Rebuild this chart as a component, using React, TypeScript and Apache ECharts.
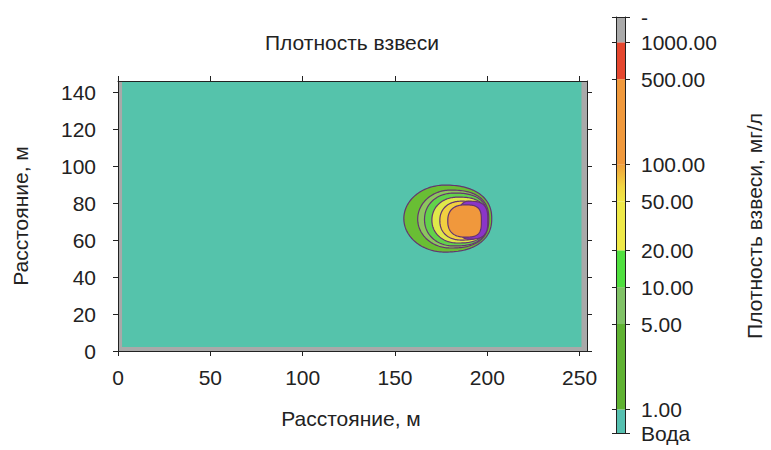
import React, { useEffect, useRef } from 'react';
import * as echarts from 'echarts';

// ---- main plot axes ----
const xTicks = [0, 50, 100, 150, 200, 250];
const yTicks = [0, 20, 40, 60, 80, 100, 120, 140];
const xMax = 254;
const yMax = 146;

// water region (data units): x0, y0, x1, y1
const waterRegion = [2.2, 2.2, 251, 146];

// contour regions (data units), drawn outermost first
const contourNames = ['1', '5', '10', '20', '50', 'edge', '100'];
const contourLeft = [154.8, 162.3, 166.0, 170.0, 174.3, 184.0, 178.6];
const contourMid = [177.0, 180.0, 182.0, 184.0, 186.0, 190.0, 188.0];
const contourRight = [202.4, 200.8, 200.2, 199.7, 199.2, 200.3, 196.8];
const contourBottom = [53.5, 55.7, 56.8, 58.4, 60.0, 60.5, 61.6];
const contourTop = [89.7, 87.0, 85.4, 83.2, 81.0, 81.0, 79.0];

// ---- colour bar ----
const cbLevels = [0.644, 1, 5, 10, 20, 50, 100, 500, 1000, 1610];
const cbLabels = ['Вода', '1.00', '5.00', '10.00', '20.00', '50.00', '100.00', '500.00', '1000.00', '-'];

// styles
const contourColors = ['#69be34', '#8cc65e', '#62d24a', '#dfe84a', '#f1d040', '#8a35c8', '#f0983c'];
const shapeLeft = [2.0, 2.0, 2.1, 2.1, 2.2, 2.4, 2.4];
const shapeRight = [2.3, 2.5, 2.6, 2.7, 2.8, 3.0, 3.2];
const contourLine = '#64356f';
const FONT = "'Liberation Sans', Arial, sans-serif";
const TXT = '#222222';

export default function App() {
  const ref = useRef<HTMLDivElement>(null);

  useEffect(() => {
    if (!ref.current) return;
    const chart = echarts.init(ref.current, undefined, { renderer: 'svg' });

    const bandColors: any[] = [
      '#56c0b0',
      '#5fb232',
      '#80c266',
      '#4fdf3e',
      '#eee948',
      new echarts.graphic.LinearGradient(0, 0, 0, 1, [
        { offset: 0, color: '#f0a23c' },
        { offset: 0.6, color: '#f1d642' },
        { offset: 1, color: '#efe646' },
      ]),
      '#f0993c',
      '#e5472f',
      '#aaaaaa',
    ];

    const lg = (v: number) => Math.log10(v);
    const cbLog = cbLevels.map(lg);
    const cbBands = cbLevels.slice(0, -1).map((v, i) => [lg(v), lg(cbLevels[i + 1]), i]);

    const contourData = contourNames.map((_, i) => [
      contourLeft[i], contourMid[i], contourRight[i], contourBottom[i], contourTop[i], i,
    ]);

    const axisLineStyle = { color: '#222', width: 1 };

    const option: any = {
      animation: false,
      backgroundColor: '#ffffff',
      textStyle: { fontFamily: FONT },
      grid: [
        { left: 118, top: 81, width: 469, height: 270, show: true, backgroundColor: '#a9a9a9', borderWidth: 0, containLabel: false },
        { left: 616, top: 17, width: 9, height: 416, show: false, containLabel: false },
      ],
      xAxis: [
        {
          type: 'value', gridIndex: 0, position: 'bottom', min: 0, max: xMax, z: 5,
          axisLine: { show: true, onZero: false, lineStyle: axisLineStyle },
          axisTick: { show: true, inside: false, length: 5, lineStyle: axisLineStyle, customValues: xTicks },
          axisLabel: { customValues: xTicks, fontSize: 21, color: TXT, fontFamily: FONT, margin: 16 },
          splitLine: { show: false },
        },
        {
          type: 'value', gridIndex: 0, position: 'top', min: 0, max: xMax, z: 5,
          axisLine: { show: true, onZero: false, lineStyle: axisLineStyle },
          axisTick: { show: true, inside: false, length: 5, lineStyle: axisLineStyle, customValues: xTicks },
          axisLabel: { show: false, customValues: xTicks },
          splitLine: { show: false },
        },
        {
          type: 'value', gridIndex: 1, position: 'bottom', min: 0, max: 1, z: 5,
          axisLine: { show: true, onZero: false, lineStyle: axisLineStyle },
          axisTick: { show: false }, axisLabel: { show: false }, splitLine: { show: false },
        },
        {
          type: 'value', gridIndex: 1, position: 'top', min: 0, max: 1, z: 5,
          axisLine: { show: true, onZero: false, lineStyle: axisLineStyle },
          axisTick: { show: false }, axisLabel: { show: false }, splitLine: { show: false },
        },
      ],
      yAxis: [
        {
          type: 'value', gridIndex: 0, position: 'left', min: 0, max: yMax, z: 5,
          axisLine: { show: true, onZero: false, lineStyle: axisLineStyle },
          axisTick: { show: true, inside: false, length: 5, lineStyle: axisLineStyle, customValues: yTicks },
          axisLabel: { customValues: yTicks, fontSize: 21, color: TXT, fontFamily: FONT, margin: 22 },
          splitLine: { show: false },
        },
        {
          type: 'value', gridIndex: 0, position: 'right', min: 0, max: yMax, z: 5,
          axisLine: { show: true, onZero: false, lineStyle: axisLineStyle },
          axisTick: { show: true, inside: false, length: 5, lineStyle: axisLineStyle, customValues: yTicks },
          axisLabel: { show: false, customValues: yTicks },
          splitLine: { show: false },
        },
        {
          type: 'value', gridIndex: 1, position: 'left', min: cbLog[0], max: cbLog[cbLog.length - 1], z: 5,
          axisLine: { show: true, onZero: false, lineStyle: axisLineStyle },
          axisTick: { show: true, inside: false, length: 4, lineStyle: axisLineStyle, customValues: cbLog },
          axisLabel: { show: false },
          splitLine: { show: false },
        },
        {
          type: 'value', gridIndex: 1, position: 'right', min: cbLog[0], max: cbLog[cbLog.length - 1], z: 5,
          axisLine: { show: true, onZero: false, lineStyle: axisLineStyle },
          axisTick: { show: true, inside: false, length: 5, lineStyle: axisLineStyle, customValues: cbLog },
          axisLabel: {
            customValues: cbLog,
            fontSize: 21, color: TXT, fontFamily: FONT, margin: 16,
            formatter: (v: number) => {
              let best = 0;
              for (let i = 0; i < cbLog.length; i++) {
                if (Math.abs(cbLog[i] - v) < Math.abs(cbLog[best] - v)) best = i;
              }
              return cbLabels[best];
            },
          },
          splitLine: { show: false },
        },
      ],
      series: [
        {
          type: 'custom', name: 'water', coordinateSystem: 'cartesian2d', xAxisIndex: 0, yAxisIndex: 0, z: 1,
          data: [waterRegion],
          renderItem: (params: any, api: any) => {
            const p0 = api.coord([api.value(0), api.value(3)]);
            const p1 = api.coord([api.value(2), api.value(1)]);
            return {
              type: 'rect',
              shape: { x: p0[0], y: p0[1], width: p1[0] - p0[0], height: p1[1] - p0[1] },
              style: { fill: '#55c3ab' },
            };
          },
        },
        {
          type: 'custom', name: 'contours', coordinateSystem: 'cartesian2d', xAxisIndex: 0, yAxisIndex: 0, z: 2,
          data: contourData,
          renderItem: (params: any, api: any) => {
            const l = api.value(0), m = api.value(1), r = api.value(2), b = api.value(3), t = api.value(4);
            const idx = api.value(5);
            const cy = (b + t) / 2, ry = (t - b) / 2;
            const nL = shapeLeft[idx], nR = shapeRight[idx];
            const pts: number[][] = [];
            const N = 160;
            for (let k = 0; k < N; k++) {
              const th = (2 * Math.PI * k) / N;
              const c = Math.cos(th), s = Math.sin(th);
              const right = c >= 0;
              const rx = right ? r - m : m - l;
              const n = right ? nR : nL;
              const x = m + Math.sign(c) * rx * Math.pow(Math.abs(c), 2 / n);
              const y = cy + Math.sign(s) * ry * Math.pow(Math.abs(s), 2 / n);
              pts.push(api.coord([x, y]));
            }
            return {
              type: 'polygon',
              shape: { points: pts },
              style: { fill: contourColors[idx], stroke: contourLine, lineWidth: 1.2 },
            };
          },
        },
        {
          type: 'custom', name: 'colorbar', coordinateSystem: 'cartesian2d', xAxisIndex: 2, yAxisIndex: 2, z: 1,
          data: cbBands,
          renderItem: (params: any, api: any) => {
            const lo = api.value(0), hi = api.value(1), idx = api.value(2);
            const p0 = api.coord([0, hi]);
            const p1 = api.coord([1, lo]);
            return {
              type: 'rect',
              shape: { x: p0[0], y: p0[1], width: p1[0] - p0[0], height: p1[1] - p0[1] },
              style: { fill: bandColors[idx] },
            };
          },
        },
      ],
      graphic: [
        {
          type: 'text', x: 352, y: 42, z: 10,
          style: { text: 'Плотность взвеси', font: `21px ${FONT}`, fill: TXT, align: 'center', verticalAlign: 'middle' },
        },
        {
          type: 'text', x: 351, y: 418, z: 10,
          style: { text: 'Расстояние, м', font: `21px ${FONT}`, fill: TXT, align: 'center', verticalAlign: 'middle' },
        },
        {
          type: 'text', x: 20, y: 216, rotation: Math.PI / 2, z: 10,
          style: { text: 'Расстояние, м', font: `21px ${FONT}`, fill: TXT, align: 'center', verticalAlign: 'middle' },
        },
        {
          type: 'text', x: 754, y: 226, rotation: Math.PI / 2, z: 10,
          style: { text: 'Плотность взвеси, мг/л', font: `21px ${FONT}`, fill: TXT, align: 'center', verticalAlign: 'middle' },
        },
      ],
    };

    chart.setOption(option);
    return () => chart.dispose();
  }, []);

  return <div ref={ref} style={{ position: 'fixed', left: 0, top: 0, width: 771, height: 450 }} />;
}
